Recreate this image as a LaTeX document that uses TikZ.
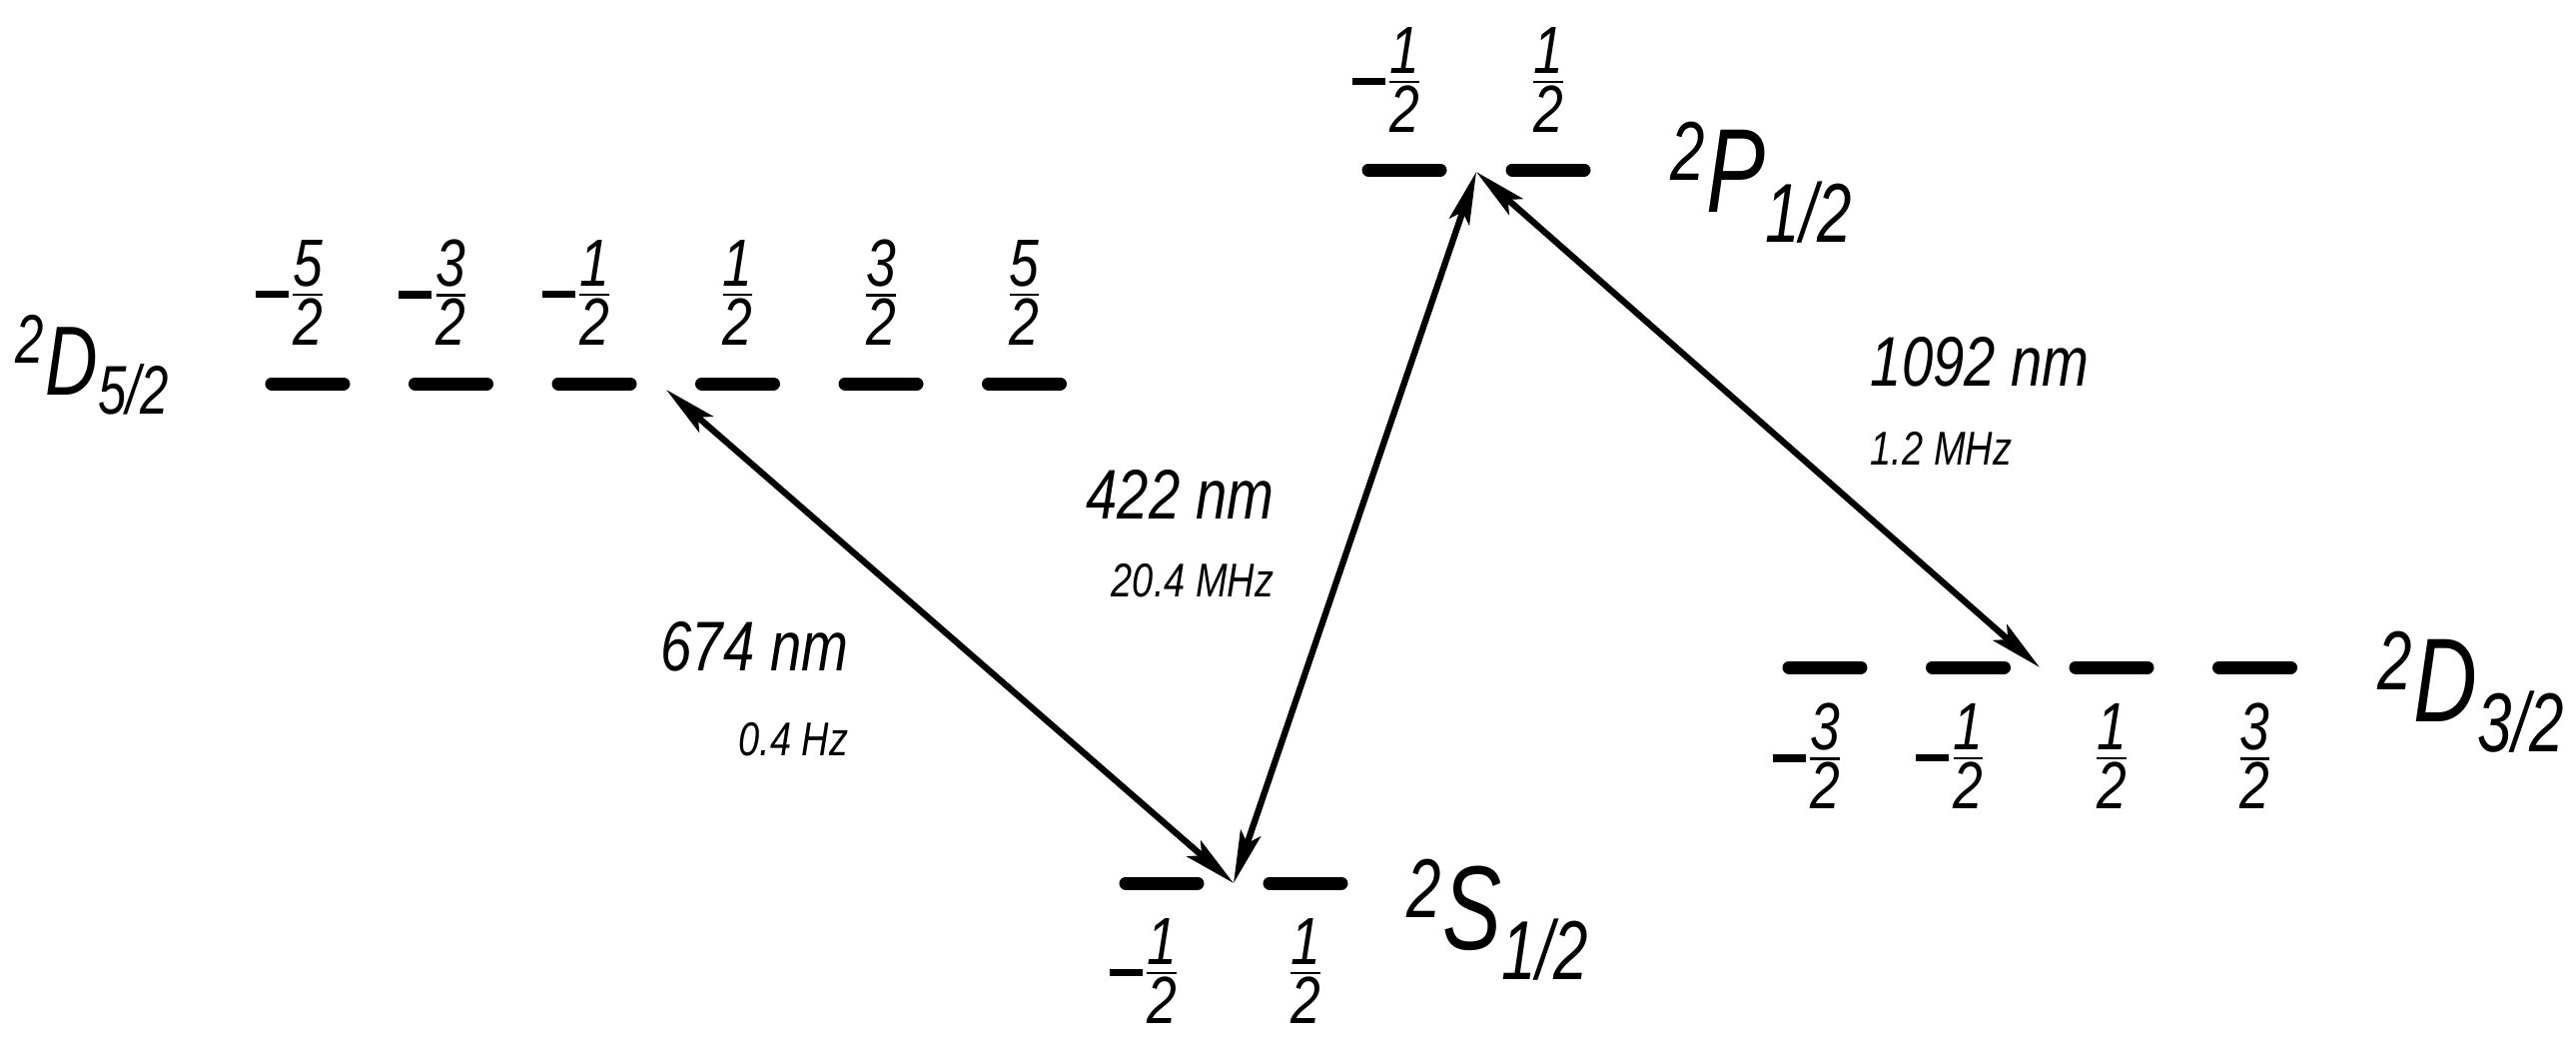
\documentclass[tikz,border=0pt]{standalone}
\usepackage{fontspec}
\setmainfont[FakeStretch=0.8]{Liberation Sans}
\newfontfamily\termfont[FakeStretch=0.74]{Liberation Sans}
\usepackage{amsmath}
\usetikzlibrary{arrows.meta,positioning}

\newcommand{\half}[1]{$\frac{\mbox{#1}}{\mbox{2}}$}
\newcommand{\mhalf}[1]{\llap{\rule[0.18em]{0.5em}{0.11em}}\half{#1}}
\newcommand{\term}[3]{\textsuperscript{#1}#2\textsubscript{#3}}

\tikzset{
	zline/.style={line width=3.7pt,line cap=round},
	trans/.style={<->,line width=1.8pt},
	mval/.style={inner sep=0pt,font=\fontsize{19}{21}\selectfont\itshape},
	termlabel/.style={inner sep=0pt,anchor=base west,font=\fontsize{34}{36}\selectfont\termfont\itshape},
	wave/.style={inner sep=0pt,font=\fontsize{20}{22}\selectfont\itshape},
	rate/.style={inner sep=0pt,font=\fontsize{13.5}{15}\selectfont\itshape},
}

\begin{document}
\begin{tikzpicture}[x=0.01cm,y=-0.01cm,>={Stealth[length=15pt,width=6pt,inset=3pt]}]
		\useasboundingbox (0,0) rectangle (2579,1044);

		\foreach \lab [count=\i] in {\mhalf{5},\mhalf{3},\mhalf{1},\half{1},\half{3},\half{5}} {
			\pgfmathsetmacro\xc{308+143.5*(\i-1)}
			\draw[zline] (\xc-36,384) -- (\xc+36,384);
			\node[mval] (d5m\i) at (\xc,293) {\lab};
		}
		\foreach \lab [count=\i] in {\mhalf{1},\half{1}} {
			\pgfmathsetmacro\xc{1406+144*(\i-1)}
			\draw[zline] (\xc-36,170) -- (\xc+36,170);
			\node[mval] (p1m\i) at (\xc,80) {\lab};
		}
		\foreach \lab [count=\i] in {\mhalf{1},\half{1}} {
			\pgfmathsetmacro\xc{1163+144*(\i-1)}
			\draw[zline] (\xc-36,884) -- (\xc+36,884);
			\node[mval] (s1m\i) at (\xc,972) {\lab};
		}
		\foreach \lab [count=\i] in {\mhalf{3},\mhalf{1},\half{1},\half{3}} {
			\pgfmathsetmacro\xc{1827+143.5*(\i-1)}
			\draw[zline] (\xc-36,668) -- (\xc+36,668);
			\node[mval] (d3m\i) at (\xc,757) {\lab};
		}

		\node[termlabel,font=\fontsize{28}{30}\selectfont\termfont\itshape] (d52) at (15,395) {\term{2}{D}{5/2}};
		\node[termlabel] (p12) at (1672,212) {\term{2}{P}{1/2}};
		\node[termlabel] (s12) at (1408,950) {\term{2}{S}{1/2}};
		\node[termlabel] (d32) at (2380,722) {\term{2}{D}{3/2}};

		\coordinate (d5tip) at (667,390);
		\coordinate (s1tip) at (1235,884);
		\coordinate (p1tip) at (1478,172);
		\coordinate (d3tip) at (2042,668);

		\path
			(d5tip) edge[trans] (s1tip)
			(s1tip) edge[trans] (p1tip)
			(p1tip) edge[trans] (d3tip)
			;

		\node[wave,anchor=east] (l674) at (850,647) {674 nm};
		\node[rate,below=0.5cm of l674.south east,anchor=north east] (f674) {0.4 Hz};
		\node[wave,anchor=east] (l422) at (1276,495) {422 nm};
		\node[rate,below=0.43cm of l422.south east,anchor=north east] (f422) {20.4 MHz};
		\node[wave,anchor=west] (l1092) at (1872,362) {1092 nm};
		\node[rate,below=0.44cm of l1092.south west,anchor=north west] (f1092) {1.2 MHz};
	\end{tikzpicture}
\end{document}
